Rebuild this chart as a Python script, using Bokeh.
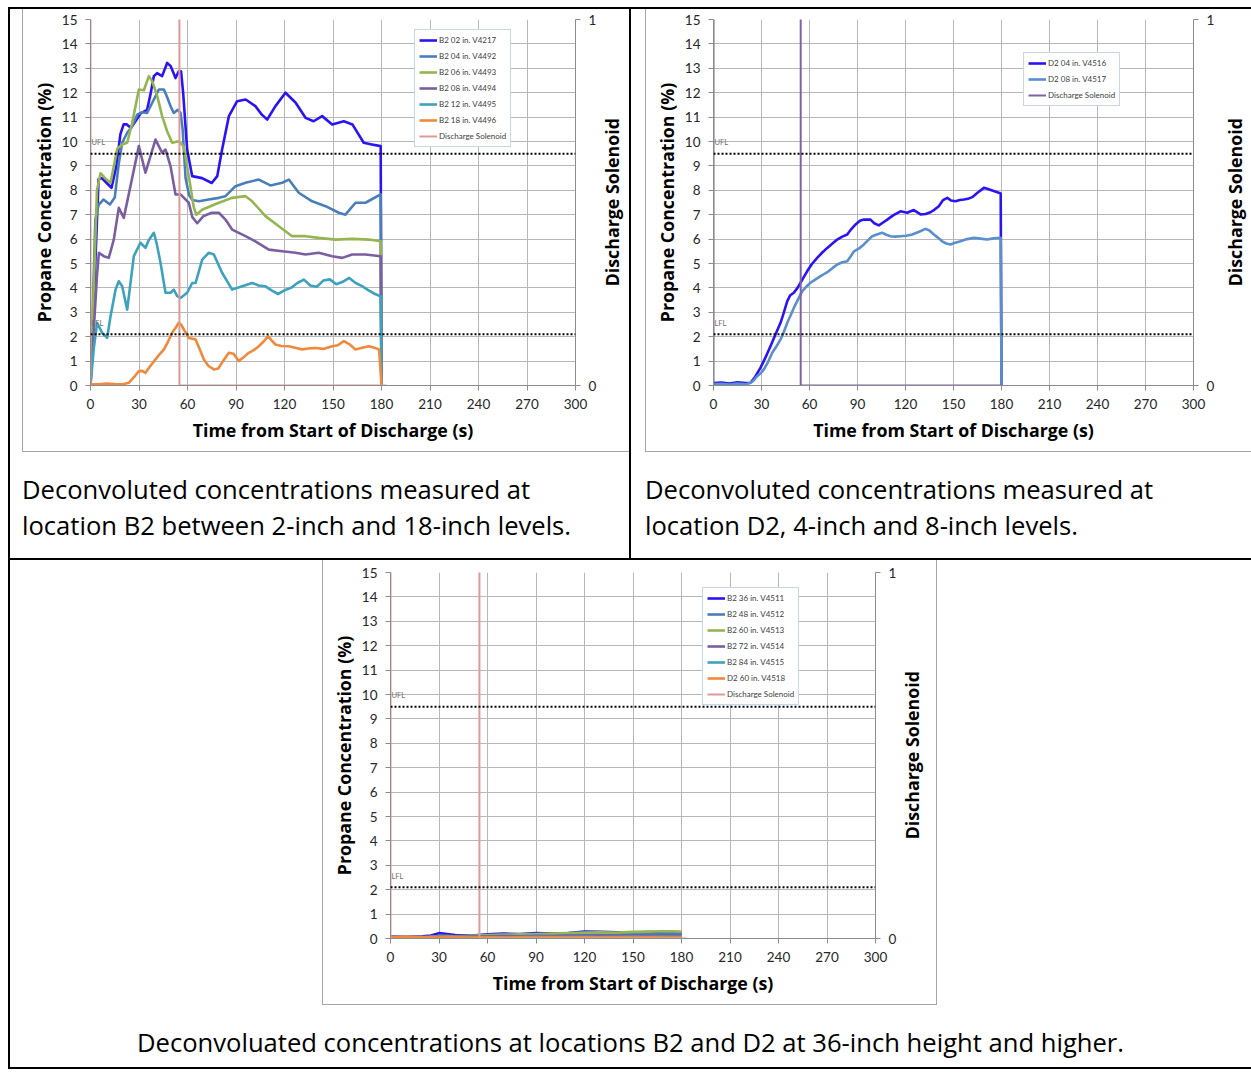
from bokeh.plotting import figure
from bokeh.models import Range1d, LinearAxis, FixedTicker, Legend, LegendItem, Label, Div, Spacer, Span
from bokeh.layouts import column, row
from bokeh.embed import file_html
from bokeh.resources import INLINE

# ---------------- data ----------------
X_TICKS = [0, 30, 60, 90, 120, 150, 180, 210, 240, 270, 300]
Y_TICKS = list(range(0, 16))
SOL_TICKS = [0, 1]
UFL = 9.5
LFL = 2.1
UFL_LABEL_Y = 9.95
LFL_LABEL_Y = 2.55

# Chart 1: location B2, 2-18 inch
t_b2_02 = [0, 5, 7, 10, 13, 16, 18.5, 20.5, 22.5, 25, 28, 31, 35, 37, 39.2, 41.2, 44.3, 47.4, 49.5, 52.6, 54.6, 56, 57.3, 59.8, 62.9, 69, 75, 78.4, 81.4, 85.6, 90.7, 96, 102, 106, 109.3, 114.4, 120.6, 126.8, 133, 138, 143.3, 149.5, 156.7, 162, 169, 174, 179.5, 180]
c_b2_02 = [0, 8.45, 8.5, 8.3, 8.1, 9.0, 10.3, 10.7, 10.7, 10.55, 10.85, 11.15, 11.3, 11.9, 12.68, 12.8, 12.68, 13.22, 13.1, 12.6, 12.88, 12.88, 12.0, 9.67, 8.58, 8.5, 8.3, 8.58, 9.67, 11.04, 11.65, 11.72, 11.45, 11.1, 10.9, 11.45, 12.0, 11.6, 10.97, 10.83, 11.04, 10.7, 10.83, 10.7, 9.95, 9.88, 9.81, 0]

t_b2_04 = [0, 3, 5, 8, 12, 15, 17.5, 19.6, 22.7, 25.5, 28.9, 32, 35, 39.2, 42.3, 45.4, 47.5, 49.5, 51.5, 54, 55.7, 57, 58.8, 61, 63, 67, 73.2, 79.4, 83.5, 89.7, 95.9, 104.1, 111.3, 118.6, 122.7, 128.8, 137.1, 145.4, 153.6, 157.7, 163.9, 170.1, 179.5, 180]
c_b2_04 = [0, 6.8, 7.4, 7.62, 7.42, 7.7, 9.1, 9.95, 10.36, 10.6, 11.1, 11.2, 11.17, 11.72, 12.13, 12.13, 11.8, 11.45, 11.17, 11.3, 11.17, 10.5, 8.5, 7.8, 7.6, 7.55, 7.62, 7.69, 7.76, 8.17, 8.31, 8.44, 8.2, 8.31, 8.44, 7.9, 7.55, 7.35, 7.08, 7.0, 7.49, 7.49, 7.83, 0]

t_b2_06 = [0, 4, 6.2, 9, 12.4, 16.5, 19.6, 22.7, 25.8, 29.9, 33, 36.1, 38.2, 41.3, 44.3, 47.4, 50.5, 54.6, 57.7, 60.8, 63.9, 65.5, 69, 79.4, 87.6, 95.9, 100, 108.2, 116.5, 124.7, 133, 141.2, 151.5, 161.9, 172.2, 179.5, 180]
c_b2_06 = [0, 8.0, 8.7, 8.5, 8.3, 9.7, 9.88, 9.95, 10.77, 12.13, 12.1, 12.68, 12.47, 11.86, 11.04, 10.42, 9.95, 10.01, 9.8, 8.58, 7.3, 7.0, 7.2, 7.49, 7.69, 7.76, 7.55, 6.94, 6.53, 6.12, 6.12, 6.05, 5.98, 6.01, 5.98, 5.91, 0]

t_b2_08 = [0, 4, 5.2, 8.2, 11.3, 14.4, 17.5, 20.6, 24.7, 29.9, 34, 40.2, 44.3, 46.4, 49.5, 52.6, 55.7, 60.8, 63, 66, 70, 75, 79.4, 83.5, 87.6, 95.9, 102, 110.3, 118.6, 126.8, 133, 141.2, 149.5, 155.7, 161.9, 170.1, 179.5, 180]
c_b2_08 = [0, 4.5, 5.44, 5.3, 5.23, 5.98, 7.28, 6.87, 8.17, 9.81, 8.72, 10.08, 9.54, 9.67, 8.99, 7.83, 7.83, 7.49, 6.9, 6.65, 6.95, 7.08, 7.08, 6.8, 6.39, 6.12, 5.91, 5.57, 5.5, 5.44, 5.37, 5.44, 5.3, 5.23, 5.37, 5.37, 5.3, 0]

t_b2_12 = [0, 2, 4.1, 7.2, 10.3, 12.4, 15.5, 17.5, 19.6, 22.7, 26.8, 30.9, 34, 36, 39.2, 41, 43.3, 46.4, 49.5, 51.5, 53.6, 55.7, 59.8, 62.9, 65, 69.1, 73.2, 76.3, 81.4, 87.6, 93.8, 100, 104, 108, 112, 116, 120, 124, 128, 132, 136, 140, 144, 148, 152, 156, 160, 164, 168, 172, 176, 179.5, 180]
c_b2_12 = [0, 1.5, 2.57, 2.16, 1.95, 2.84, 3.93, 4.27, 4.07, 3.11, 5.3, 5.85, 5.64, 5.95, 6.26, 5.8, 5.03, 3.8, 3.8, 3.93, 3.66, 3.59, 3.8, 4.2, 4.2, 5.16, 5.44, 5.37, 4.62, 3.93, 4.07, 4.2, 4.1, 4.07, 3.9, 3.75, 3.9, 4.0, 4.2, 4.34, 4.1, 4.05, 4.3, 4.35, 4.15, 4.25, 4.41, 4.2, 4.07, 3.9, 3.75, 3.66, 0]

t_b2_18 = [0, 5, 10, 15, 20, 23.7, 27, 29.9, 32, 34, 37, 40.2, 43, 45.4, 48, 50.5, 53, 54.6, 56, 57.7, 60.8, 65, 67.5, 70.1, 73, 76.3, 79, 82, 85.6, 88.5, 91.7, 94.5, 97.9, 101, 104.1, 107, 109.9, 112, 114.4, 118, 122.7, 126.5, 130.9, 135, 139.2, 144, 149.5, 153, 156.7, 160, 163.9, 168, 172.2, 175.5, 178.5, 180]
c_b2_18 = [0.05, 0.05, 0.08, 0.06, 0.05, 0.11, 0.35, 0.59, 0.6, 0.52, 0.8, 1.07, 1.3, 1.48, 1.8, 2.16, 2.4, 2.57, 2.5, 2.3, 1.95, 1.89, 1.5, 1.07, 0.8, 0.66, 0.7, 1.0, 1.34, 1.3, 1.0, 1.15, 1.34, 1.45, 1.61, 1.8, 2.02, 1.85, 1.68, 1.62, 1.61, 1.55, 1.48, 1.52, 1.54, 1.5, 1.61, 1.65, 1.82, 1.7, 1.48, 1.55, 1.61, 1.55, 1.48, 0]

# solenoid signal (high state reads above the 0-1 secondary scale)
sol_b2_t = [0, 0, 55, 55, 183]
sol_b2_v = [0, 1.05, 1.05, 0, 0]

# Chart 2: location D2, 4 and 8 inch
t_d2_04 = [0, 5, 10, 15, 20, 23.1, 26, 29.4, 32.5, 35.6, 38.8, 41.9, 44, 46.1, 48, 50.2, 52.5, 54.4, 56.5, 58.6, 61.5, 64.8, 68, 71.1, 74, 77.3, 80.5, 83.6, 86, 88.8, 91.5, 94, 98.1, 100.5, 103.3, 106, 108.6, 112.5, 116.9, 121, 125.2, 129.4, 132.5, 135.6, 138, 140.8, 143.5, 146.1, 148.5, 151.3, 154, 156.5, 159, 161.7, 165, 169, 171.5, 174.2, 177, 179.5, 180]
c_d2_04 = [0.1, 0.12, 0.08, 0.13, 0.1, 0.11, 0.35, 0.73, 1.15, 1.61, 2.1, 2.57, 3.0, 3.46, 3.7, 3.8, 4.0, 4.21, 4.45, 4.69, 4.98, 5.23, 5.45, 5.64, 5.8, 5.98, 6.1, 6.19, 6.4, 6.6, 6.75, 6.8, 6.8, 6.65, 6.56, 6.68, 6.8, 6.98, 7.14, 7.08, 7.19, 7.01, 7.03, 7.1, 7.2, 7.35, 7.6, 7.69, 7.58, 7.55, 7.6, 7.62, 7.65, 7.72, 7.9, 8.1, 8.05, 7.99, 7.93, 7.87, 0]

t_d2_08 = [0, 5, 10, 15, 20, 23, 25, 27.3, 29.5, 31.5, 34, 36.7, 39.5, 41.9, 44, 46.1, 48, 50.2, 53, 55.4, 58, 60.6, 63.8, 66.9, 69.5, 72.1, 74.5, 77.3, 80.5, 83.6, 85.8, 87.8, 91, 94, 96.5, 99.2, 102.5, 105.4, 108, 110.6, 113.5, 116.9, 120.5, 124.2, 128.5, 132.5, 135, 137.7, 140.5, 142.9, 145.5, 148.1, 151, 154.4, 158.5, 162.7, 167, 171, 175, 179.5, 180]
c_d2_08 = [0.05, 0.07, 0.04, 0.08, 0.05, 0.1, 0.2, 0.38, 0.5, 0.66, 0.95, 1.34, 1.62, 1.89, 2.2, 2.57, 2.85, 3.18, 3.55, 3.86, 4.05, 4.21, 4.35, 4.48, 4.58, 4.69, 4.82, 4.96, 5.05, 5.09, 5.3, 5.5, 5.62, 5.78, 5.95, 6.12, 6.2, 6.26, 6.18, 6.12, 6.1, 6.12, 6.14, 6.19, 6.3, 6.42, 6.35, 6.19, 6.05, 5.91, 5.82, 5.78, 5.85, 5.91, 6.0, 6.05, 6.02, 5.98, 6.03, 6.05, 0]

sol_d2_t = [0, 0, 54.5, 54.5, 180]
sol_d2_v = [0, 1.05, 1.05, 0, 0]

# Chart 3: B2 and D2 at 36 inch and higher
t_high = [0, 10, 20, 25, 30, 35, 40, 50, 60, 70, 80, 90, 100, 110, 120, 130, 140, 150, 160, 170, 180]
c_b2_36 = [0.08, 0.07, 0.09, 0.12, 0.22, 0.18, 0.14, 0.12, 0.17, 0.2, 0.18, 0.22, 0.2, 0.22, 0.28, 0.27, 0.25, 0.24, 0.26, 0.24, 0.22]
c_b2_48 = [0.05, 0.06, 0.05, 0.07, 0.1, 0.1, 0.09, 0.1, 0.12, 0.13, 0.14, 0.15, 0.16, 0.15, 0.17, 0.18, 0.16, 0.18, 0.17, 0.19, 0.18]
c_b2_60 = [0.04, 0.05, 0.06, 0.07, 0.1, 0.1, 0.09, 0.11, 0.14, 0.16, 0.17, 0.18, 0.2, 0.22, 0.24, 0.25, 0.24, 0.27, 0.28, 0.3, 0.28]
c_b2_72 = [0.05, 0.04, 0.05, 0.06, 0.07, 0.06, 0.07, 0.08, 0.09, 0.1, 0.09, 0.11, 0.1, 0.12, 0.11, 0.12, 0.11, 0.13, 0.12, 0.13, 0.12]
c_b2_84 = [0.03, 0.03, 0.04, 0.04, 0.05, 0.04, 0.05, 0.05, 0.06, 0.05, 0.06, 0.07, 0.06, 0.07, 0.07, 0.06, 0.07, 0.08, 0.07, 0.08, 0.07]
c_d2_60 = [0.06, 0.08, 0.05, 0.06, 0.04, 0.05, 0.05, 0.04, 0.05, 0.04, 0.05, 0.04, 0.05, 0.04, 0.05, 0.04, 0.05, 0.04, 0.05, 0.04, 0.04]

sol_hi_t = [0, 0, 55, 55, 183]
sol_hi_v = [0, 1.05, 1.05, 0, 0]

caption1 = "Deconvoluted concentrations measured at<br>location B2 between 2-inch and 18-inch levels."
caption2 = "Deconvoluted concentrations measured at<br>location D2, 4-inch and 8-inch levels."
caption3 = "Deconvoluated concentrations at locations B2 and D2 at 36-inch height and higher."
SOL_TITLE = "Discharge Solenoid"

# ---------------- styles ----------------
BLUE = "#2a14f5"
STEEL = "#4a7ebb"
GREEN = "#94b550"
PURPLE = "#7a5fa0"
TEAL = "#3da2bd"
ORANGE = "#ef8a3c"
PINK = "#dd9a98"
SOLPURPLE = "#7d62a6"
STEEL2 = "#5a8fcc"
FONT = "Lato"
LABEL_FONT = "Open Sans"


def make_chart(w, h, mb, series, sol, sol_color, legend_xy):
    p = figure(width=w, height=h, x_range=Range1d(0, 300), y_range=Range1d(0, 15),
               output_backend="svg", toolbar_location=None,
               min_border_left=mb[0], min_border_right=mb[1],
               min_border_top=mb[2], min_border_bottom=mb[3])
    p.extra_y_ranges = {"sol": Range1d(0, 1)}
    p.outline_line_color = None
    p.background_fill_color = "white"
    p.border_fill_color = "white"

    p.xaxis.ticker = FixedTicker(ticks=X_TICKS)
    p.yaxis.ticker = FixedTicker(ticks=Y_TICKS)
    p.xaxis.axis_label = "Time from Start of Discharge (s)"
    p.yaxis.axis_label = "Propane Concentration (%)"

    ax2 = LinearAxis(y_range_name="sol", ticker=FixedTicker(ticks=SOL_TICKS))
    p.add_layout(ax2, "right")

    for ax in p.axis:
        ax.axis_line_color = "#8c8c8c"
        ax.major_tick_line_color = "#8c8c8c"
        ax.major_tick_out = 5
        ax.major_tick_in = 0
        ax.minor_tick_line_color = None
        ax.major_label_text_font = FONT
        ax.major_label_text_font_size = "13.5px"
        ax.major_label_text_color = "#262626"
        ax.axis_label_text_font = LABEL_FONT
        ax.axis_label_text_font_style = "bold"
        ax.axis_label_text_font_size = "17.8px"
        ax.axis_label_text_color = "#000000"
        ax.major_label_standoff = 8
        ax.axis_label_standoff = 6
    p.yaxis[0].axis_label_standoff = 3

    for g in p.grid:
        g.grid_line_color = "#b8b8b8"
        g.grid_line_width = 1

    p.add_layout(Span(location=UFL, dimension="width", line_color="black",
                      line_width=2, line_dash="2 2"))
    p.add_layout(Span(location=LFL, dimension="width", line_color="black",
                      line_width=2, line_dash="2 2"))
    for txt, yv in (("UFL", UFL_LABEL_Y), ("LFL", LFL_LABEL_Y)):
        p.add_layout(Label(x=0, y=yv, x_offset=1, text=txt, text_font=FONT,
                           text_font_size="7.5px", text_color="#6f6f6f",
                           text_baseline="middle", text_align="left"))

    items = []
    for name, tx, cy, col in series:
        r = p.line(tx, cy, line_color=col, line_width=2.6, line_join="round")
        items.append(LegendItem(label=name, renderers=[r]))
    rs = p.line(sol[0], sol[1], y_range_name="sol", line_color=sol_color, line_width=2)
    items.append(LegendItem(label=sol[2], renderers=[rs]))

    leg = Legend(items=items, location=legend_xy)
    leg.label_text_font = FONT
    leg.label_text_font_size = "8px"
    leg.label_text_color = "#404040"
    leg.glyph_width = 18
    leg.glyph_height = 12
    leg.label_height = 12
    leg.label_standoff = 2
    leg.spacing = 4
    leg.padding = 4
    leg.margin = 0
    leg.border_line_color = "#8fb0d8"
    leg.border_line_width = 1
    leg.background_fill_color = "white"
    leg.background_fill_alpha = 1
    p.add_layout(leg)
    return p


p1 = make_chart(578, 442, (67, 26, 10, 66), [
    ("B2 02 in. V4217", t_b2_02, c_b2_02, BLUE),
    ("B2 04 in. V4492", t_b2_04, c_b2_04, STEEL),
    ("B2 06 in. V4493", t_b2_06, c_b2_06, GREEN),
    ("B2 08 in. V4494", t_b2_08, c_b2_08, PURPLE),
    ("B2 12 in. V4495", t_b2_12, c_b2_12, TEAL),
    ("B2 18 in. V4496", t_b2_18, c_b2_18, ORANGE),
], (sol_b2_t, sol_b2_v, "Discharge Solenoid"), PINK, (324, 238))

p2 = make_chart(573, 442, (67, 26, 10, 66), [
    ("D2 04 in. V4516", t_d2_04, c_d2_04, BLUE),
    ("D2 08 in. V4517", t_d2_08, c_d2_08, STEEL2),
], (sol_d2_t, sol_d2_v, "Discharge Solenoid"), SOLPURPLE, (310, 279))

p3 = make_chart(578, 444, (67, 26, 12, 66), [
    ("B2 36 in. V4511", t_high, c_b2_36, BLUE),
    ("B2 48 in. V4512", t_high, c_b2_48, STEEL),
    ("B2 60 in. V4513", t_high, c_b2_60, GREEN),
    ("B2 72 in. V4514", t_high, c_b2_72, PURPLE),
    ("B2 84 in. V4515", t_high, c_b2_84, TEAL),
    ("D2 60 in. V4518", t_high, c_d2_60, ORANGE),
], (sol_hi_t, sol_hi_v, "Discharge Solenoid"), PINK, (312, 233))


def bar(w, h, color):
    return Spacer(width=w, height=h, margin=0, styles={"background-color": color})


def blank(w, h):
    return Spacer(width=w, height=h, margin=0)


def caption(text, w, h, pad_top, pad_left, align):
    html = ('<div style="font-family:\'Open Sans\',sans-serif;font-size:25.6px;line-height:36px;'
            'color:#000;padding:%dpx 0 0 %dpx;text-align:%s;white-space:nowrap;width:%dpx;">%s</div>'
            % (pad_top, pad_left, align, w - pad_left, text))
    return Div(text=html, width=w, height=h, margin=0)


def side_title(w, h, pad_right, pad_bottom):
    html = ('<div style="box-sizing:border-box;width:%dpx;height:%dpx;padding:0 %dpx %dpx 0;'
            'display:flex;align-items:center;justify-content:center;background:#fff;">'
            '<span style="writing-mode:vertical-rl;transform:rotate(180deg);'
            'font-family:\'Open Sans\',sans-serif;font-weight:bold;font-size:17.8px;'
            'line-height:22px;color:#000;white-space:nowrap;">%s</span></div>'
            % (w, h, pad_right, pad_bottom, SOL_TITLE))
    return Div(text=html, width=w, height=h, margin=0)


BLACK = "#000000"
GRAY = "#a6a6a6"

cell1 = column(
    row(blank(12, 442), bar(1, 442, GRAY), p1, side_title(28, 442, 6, 56)),
    row(blank(12, 1), bar(607, 1, GRAY)),
    caption(caption1, 619, 106, 20, 12, "left"),
)
cell2 = column(
    row(blank(14, 442), bar(1, 442, GRAY), p2, side_title(32, 442, 0, 56)),
    row(blank(14, 1), bar(606, 1, GRAY)),
    caption(caption2, 620, 106, 20, 14, "left"),
)
cell3 = column(
    row(blank(312, 444), bar(1, 444, GRAY), p3, side_title(35, 444, 13, 54), bar(1, 444, GRAY)),
    row(blank(312, 1), bar(615, 1, GRAY)),
    caption(caption3, 1241, 62, 20, 0, "center"),
)

table = column(
    bar(1243, 2, BLACK),
    row(bar(2, 549, BLACK), cell1, bar(2, 549, BLACK), cell2),
    bar(1243, 2, BLACK),
    row(bar(2, 507, BLACK), cell3),
    bar(1243, 2, BLACK),
)

root = column(blank(1243, 7), row(blank(8, 1062), table))

open("out.html", "w").write(file_html(root, INLINE))
